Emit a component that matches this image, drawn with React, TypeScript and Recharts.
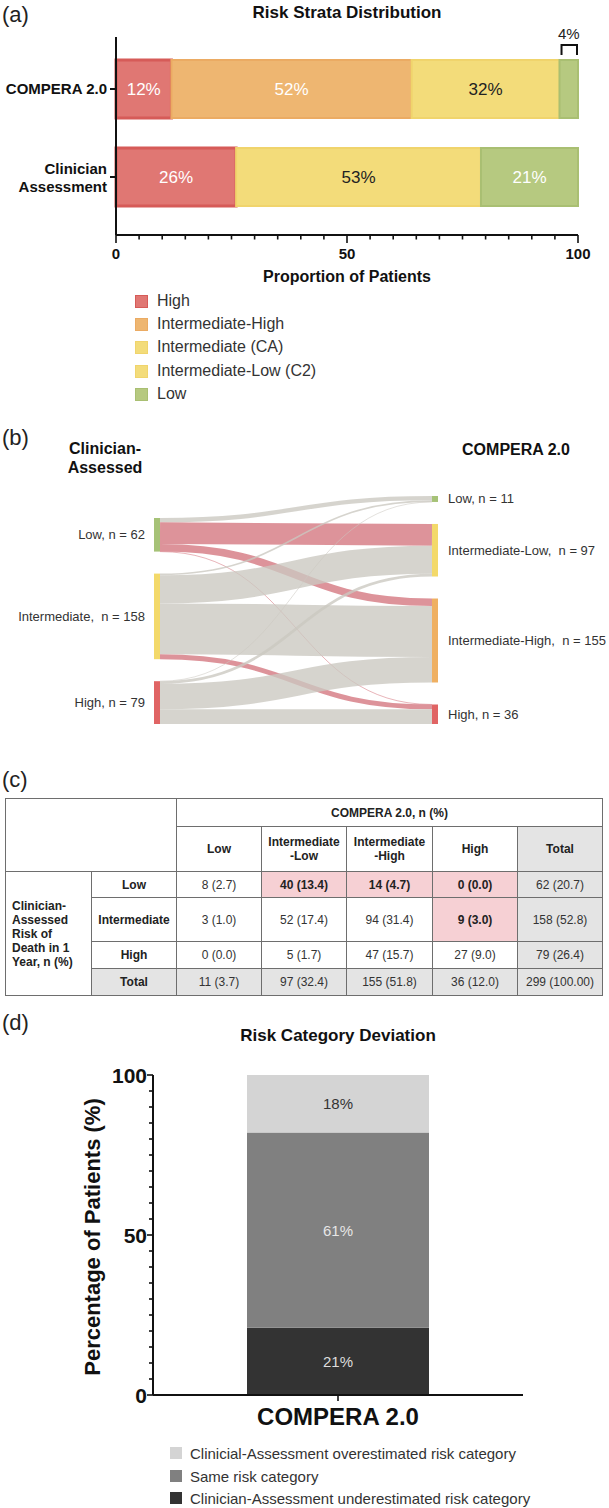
import React from 'react';
import { BarChart, Bar, XAxis, YAxis, LabelList, Sankey } from 'recharts';

const FONT = '"Liberation Sans", Arial, Helvetica, sans-serif';

// ---------- Panel (a): risk strata distribution ----------
const strataCategories = ['COMPERA 2.0', 'Clinician\nAssessment'];
const strataNames = ['High', 'Intermediate-High', 'Intermediate (CA)', 'Intermediate-Low (C2)', 'Low'];
const strataKeys = ['high', 'intHigh', 'intCA', 'intLow', 'low'];
const strataHigh = [12, 26];
const strataIntHigh = [52, 0];
const strataIntCA = [0, 53];
const strataIntLow = [32, 0];
const strataLow = [4, 21];
const strataTicks = [0, 5, 10, 15, 20, 25, 30, 35, 40, 45, 50, 55, 60, 65, 70, 75, 80, 85, 90, 95, 100];
const strataMajorTicks = [0, 50, 100];
const strataFill = ['#e07773', '#eeb671', '#f3dc7a', '#f3dc7a', '#b6c980'];
const strataStroke = ['#d65b58', '#ebab63', '#f0d46c', '#f0d46c', '#a9bf72'];
const strataLabelColor = ['#ffffff', '#ffffff', '#222222', '#222222', '#ffffff'];

// ---------- Panel (b)/(c): cross tabulation ----------
const clinicianNodeLabels = ['Low, n = 62', 'Intermediate,  n = 158', 'High, n = 79'];
const comperaNodeLabels = ['Low, n = 11', 'Intermediate-Low,  n = 97', 'Intermediate-High,  n = 155', 'High, n = 36'];
const clinicianLevels = ['Low', 'Intermediate', 'High'];
const comperaLevels = ['Low', 'Intermediate\n-Low', 'Intermediate\n-High', 'High'];
const crossCounts = [
  [8, 40, 14, 0],
  [3, 52, 94, 9],
  [0, 5, 47, 27],
];
const crossPct = [
  ['2.7', '13.4', '4.7', '0.0'],
  ['1.0', '17.4', '31.4', '3.0'],
  ['0.0', '1.7', '15.7', '9.0'],
];
const underestimated = [
  [false, true, true, true],
  [false, false, false, true],
  [false, false, false, false],
];
const rowTotals = [62, 158, 79];
const rowTotalPct = ['20.7', '52.8', '26.4'];
const colTotals = [11, 97, 155, 36];
const colTotalPct = ['3.7', '32.4', '51.8', '12.0'];
const grandTotal = 299;
const grandTotalPct = '100.00';
const nodeColors = ['#a6c277', '#f3d96a', '#e06464', '#a6c277', '#f3d96a', '#efb062', '#e06464'];

// ---------- Panel (d): risk category deviation ----------
const deviationCategories = ['COMPERA 2.0'];
const deviationUnder = [21];
const deviationSame = [61];
const deviationOver = [18];
const deviationKeys = ['under', 'same', 'over'];
const deviationFill = ['#333333', '#808080', '#d4d4d4'];
const deviationLabelColor = ['#dddddd', '#e6e6e6', '#333333'];
const deviationLegend = [
  'Clinicial-Assessment overestimated risk category',
  'Same risk category',
  'Clinician-Assessment underestimated risk category',
];
const deviationLegendFill = ['#d4d4d4', '#808080', '#333333'];
const deviationTicks = [0, 5, 10, 15, 20, 25, 30, 35, 40, 45, 50, 55, 60, 65, 70, 75, 80, 85, 90, 95, 100];
const deviationMajorTicks = [0, 50, 100];

const strataData = strataCategories.map((name, i) => ({
  name,
  high: strataHigh[i],
  intHigh: strataIntHigh[i],
  intCA: strataIntCA[i],
  intLow: strataIntLow[i],
  low: strataLow[i],
}));

const deviationData = deviationCategories.map((name, i) => ({
  name,
  under: deviationUnder[i],
  same: deviationSame[i],
  over: deviationOver[i],
}));

const sankeyData = {
  nodes: [...clinicianNodeLabels, ...comperaNodeLabels].map((name) => ({ name })),
  links: crossCounts.flatMap((row, i) =>
    row.map((v, j) => ({ source: i, target: clinicianNodeLabels.length + j, value: v, under: underestimated[i][j] }))
  ),
};

// ---------- helpers ----------
const Txt = ({ x, y, text, size, bold = false, anchor = 'middle', color = '#111', rotate = 0 }: any) => {
  const tx = anchor === 'middle' ? '-50%' : anchor === 'end' ? '-100%' : '0';
  return (
    <div
      style={{
        position: 'absolute',
        left: x,
        top: y,
        transform: `translate(${tx}, -50%)${rotate ? ` rotate(${rotate}deg)` : ''}`,
        transformOrigin: rotate ? '50% 50%' : undefined,
        fontSize: size,
        fontWeight: bold ? 700 : 400,
        color,
        whiteSpace: 'pre',
        lineHeight: 1,
        fontFamily: FONT,
      }}
    >
      {text}
    </div>
  );
};

const getBox = (props: any) => {
  const vb = props.viewBox || {};
  return {
    x: Number(props.x ?? vb.x),
    y: Number(props.y ?? vb.y),
    width: Number(props.width ?? vb.width),
    height: Number(props.height ?? vb.height),
  };
};

const makeStrataLabel = (si: number) => (props: any) => {
  const value = props.value;
  if (!value) return null;
  const { x, y, width, height } = getBox(props);
  if (si === 4 && value < 8) {
    return (
      <g>
        <path
          d={`M${x + 2},${y - 5} V${y - 15} H${x + width - 1} V${y - 5}`}
          fill="none"
          stroke="#111"
          strokeWidth={2}
        />
        <text x={x + width / 2} y={y - 27} textAnchor="middle" dominantBaseline="central" fontSize={15} fill="#222" fontFamily={FONT}>
          {`${value}%`}
        </text>
      </g>
    );
  }
  return (
    <text
      x={x + width / 2}
      y={y + height / 2}
      textAnchor="middle"
      dominantBaseline="central"
      fontSize={17}
      fill={strataLabelColor[si]}
      fontFamily={FONT}
    >
      {`${value}%`}
    </text>
  );
};

const StrataYTick = (props: any) => {
  const { x, y, payload } = props;
  const lines = String(payload.value).split('\n');
  const offsets = lines.length === 1 ? [0] : [-8, 10];
  return (
    <text textAnchor="end" fontSize={15} fontWeight="bold" fill="#111" fontFamily={FONT}>
      {lines.map((l, i) => (
        <tspan key={i} x={x} y={y + offsets[i] + 5}>
          {l}
        </tspan>
      ))}
    </text>
  );
};

const StrataXTick = (props: any) => {
  const { x, y, payload } = props;
  const major = strataMajorTicks.includes(payload.value);
  return (
    <g>
      <line x1={x} x2={x} y1={y} y2={y + (major ? 8 : 4.5)} stroke="#111" strokeWidth={1.6} />
      {major && (
        <text x={x} y={y + 18} textAnchor="middle" dominantBaseline="central" fontSize={15} fontWeight="bold" fill="#111" fontFamily={FONT}>
          {payload.value}
        </text>
      )}
    </g>
  );
};

const SankeyNodeShape = (props: any) => {
  const { x, y, width, height, index, payload } = props;
  const left = index < clinicianNodeLabels.length;
  return (
    <g>
      <rect x={x} y={y} width={width} height={Math.max(height, 1)} fill={nodeColors[index]} />
      <text
        x={left ? x - 9 : x + width + 10}
        y={y + height / 2}
        textAnchor={left ? 'end' : 'start'}
        dominantBaseline="central"
        fontSize={13}
        fill="#333"
        fontFamily={FONT}
        style={{ whiteSpace: 'pre' }}
      >
        {payload.name}
      </text>
    </g>
  );
};

const SankeyLinkShape = (props: any) => {
  const { sourceX, targetX, sourceY, targetY, sourceControlX, targetControlX, linkWidth, index, payload } = props;
  const link = sankeyData.links[index];
  const under = payload && typeof payload.under === 'boolean' ? payload.under : link && link.under;
  return (
    <path
      d={`M${sourceX},${sourceY}C${sourceControlX},${sourceY} ${targetControlX},${targetY} ${targetX},${targetY}`}
      fill="none"
      stroke={under ? '#d26f78' : '#cbc8c0'}
      strokeOpacity={under ? 0.75 : 0.78}
      strokeWidth={Math.max(linkWidth, 0.7)}
    />
  );
};

const makeDeviationLabel = (si: number) => (props: any) => {
  const value = props.value;
  if (!value) return null;
  const { x, y, width, height } = getBox(props);
  return (
    <text x={x + width / 2} y={y + height / 2} textAnchor="middle" dominantBaseline="central" fontSize={15} fill={deviationLabelColor[si]} fontFamily={FONT}>
      {`${value}%`}
    </text>
  );
};

const DeviationYTick = (props: any) => {
  const { x, y, payload } = props;
  const major = deviationMajorTicks.includes(payload.value);
  return (
    <g>
      <line x1={x - (major ? 6 : 4)} x2={x} y1={y} y2={y} stroke="#111" strokeWidth={1.6} />
      {major && (
        <text x={x - 6} y={y} textAnchor="end" dominantBaseline="central" fontSize={21} fontWeight="bold" fill="#111" fontFamily={FONT}>
          {payload.value}
        </text>
      )}
    </g>
  );
};

const DeviationXTick = (props: any) => {
  const { x, y, payload } = props;
  return (
    <g>
      <line x1={x} x2={x} y1={y} y2={y + 6} stroke="#111" strokeWidth={1.6} />
      <text x={x} y={y + 21} textAnchor="middle" dominantBaseline="central" fontSize={24} fontWeight="bold" fill="#111" fontFamily={FONT}>
        {payload.value}
      </text>
    </g>
  );
};

const LegendRow = ({ cy, left, textLeft, size, fill, stroke, label, fontSize }: any) => (
  <>
    <div
      style={{
        position: 'absolute',
        left,
        top: cy - size / 2,
        width: size,
        height: size,
        background: fill,
        boxSizing: 'border-box',
        border: stroke ? `1.5px solid ${stroke}` : 'none',
      }}
    />
    <Txt x={textLeft} y={cy} text={label} size={fontSize} anchor="start" color="#333" />
  </>
);

const border = '1.5px solid #6e6e6e';
const cell = (extra: any = {}) => ({
  border,
  padding: 0,
  textAlign: 'center' as const,
  verticalAlign: 'middle' as const,
  fontSize: 12,
  color: '#333',
  lineHeight: '14px',
  ...extra,
});
const GRAY = '#e4e4e4';
const PINK = '#f6d0d4';

const CrossTable = () => (
  <table
    style={{
      position: 'absolute',
      left: 5,
      top: 798,
      width: 597,
      borderCollapse: 'collapse',
      tableLayout: 'fixed',
      fontFamily: FONT,
    }}
  >
    <colgroup>
      <col style={{ width: 86 }} />
      <col style={{ width: 85 }} />
      <col style={{ width: 85 }} />
      <col style={{ width: 85 }} />
      <col style={{ width: 86 }} />
      <col style={{ width: 85 }} />
      <col style={{ width: 85 }} />
    </colgroup>
    <tbody>
      <tr style={{ height: 28 }}>
        <td colSpan={2} rowSpan={2} style={cell()} />
        <td colSpan={5} style={cell({ fontWeight: 700, color: '#222' })}>COMPERA 2.0, n (%)</td>
      </tr>
      <tr style={{ height: 45 }}>
        {comperaLevels.map((l) => (
          <td key={l} style={cell({ fontWeight: 700, color: '#222', whiteSpace: 'pre-line' })}>
            {l}
          </td>
        ))}
        <td style={cell({ fontWeight: 700, color: '#222', background: GRAY })}>Total</td>
      </tr>
      {clinicianLevels.map((lvl, i) => (
        <tr key={lvl} style={{ height: [26, 44, 27][i] }}>
          {i === 0 && (
            <td
              rowSpan={4}
              style={cell({ textAlign: 'left', paddingLeft: 6, fontWeight: 700, color: '#222', whiteSpace: 'pre-line' })}
            >
              {'Clinician-\nAssessed\nRisk of\nDeath in 1\nYear, n (%)'}
            </td>
          )}
          <td style={cell({ fontWeight: 700, color: '#222' })}>{lvl}</td>
          {crossCounts[i].map((v, j) => (
            <td
              key={j}
              style={cell({
                background: underestimated[i][j] ? PINK : undefined,
                fontWeight: underestimated[i][j] ? 700 : 400,
                color: underestimated[i][j] ? '#222' : '#333',
              })}
            >
              {`${v} (${crossPct[i][j]})`}
            </td>
          ))}
          <td style={cell({ background: GRAY })}>{`${rowTotals[i]} (${rowTotalPct[i]})`}</td>
        </tr>
      ))}
      <tr style={{ height: 27 }}>
        <td style={cell({ fontWeight: 700, color: '#222', background: GRAY })}>Total</td>
        {colTotals.map((v, j) => (
          <td key={j} style={cell({ background: GRAY })}>{`${v} (${colTotalPct[j]})`}</td>
        ))}
        <td style={cell({ background: GRAY })}>{`${grandTotal} (${grandTotalPct})`}</td>
      </tr>
    </tbody>
  </table>
);

export default function App() {
  return (
    <div
      style={{
        position: 'absolute',
        left: 0,
        top: 0,
        width: 609,
        height: 1508,
        background: '#fff',
        overflow: 'hidden',
        fontFamily: FONT,
      }}
    >
      {/* Panel (a) */}
      <Txt x={2} y={15} text="(a)" size={22} anchor="start" color="#222" />
      <Txt x={347} y={12} text="Risk Strata Distribution" size={17} bold />
      <div style={{ position: 'absolute', left: 0, top: 0 }}>
        <BarChart
          width={609}
          height={300}
          data={strataData}
          layout="vertical"
          margin={{ top: 37, right: 31, left: 0, bottom: 0 }}
        >
          <XAxis
            type="number"
            domain={[0, 100]}
            ticks={strataTicks}
            interval={0}
            height={65}
            tickSize={0}
            tickMargin={0}
            tickLine={false}
            axisLine={{ stroke: '#111', strokeWidth: 2 }}
            tick={(p: any) => <StrataXTick {...p} />}
          />
          <YAxis
            type="category"
            dataKey="name"
            width={116}
            padding={{ top: 8, bottom: 14 }}
            axisLine={{ stroke: '#111', strokeWidth: 2 }}
            tickLine={{ stroke: '#111', strokeWidth: 2 }}
            tickSize={6}
            tickMargin={3}
            tick={(p: any) => <StrataYTick {...p} />}
          />
          {strataKeys.map((k, si) => (
            <Bar
              key={k}
              dataKey={k}
              name={strataNames[si]}
              stackId="strata"
              fill={strataFill[si]}
              stroke={strataStroke[si]}
              strokeWidth={si === 0 ? 3 : 2}
              barSize={58}
              isAnimationActive={false}
            >
              <LabelList dataKey={k} content={makeStrataLabel(si)} />
            </Bar>
          ))}
        </BarChart>
      </div>
      <Txt x={347} y={277} text="Proportion of Patients" size={16} bold />
      {strataNames.map((n, i) => (
        <LegendRow
          key={n}
          cy={[301, 324, 347, 371, 394][i]}
          left={135}
          textLeft={157}
          size={13}
          fill={strataFill[i]}
          stroke={strataStroke[i]}
          label={n}
          fontSize={16}
        />
      ))}

      {/* Panel (b) */}
      <Txt x={2} y={438} text="(b)" size={22} anchor="start" color="#222" />
      <Txt x={105} y={449} text="Clinician-" size={16} bold />
      <Txt x={105} y={468} text="Assessed" size={16} bold />
      <Txt x={516} y={450} text="COMPERA 2.0" size={16} bold />
      <div style={{ position: 'absolute', left: 0, top: 400 }}>
        <Sankey
          width={609}
          height={340}
          data={sankeyData}
          nodeWidth={6}
          nodePadding={22}
          margin={{ top: 96, right: 171, bottom: 16, left: 154 }}
          node={(p: any) => <SankeyNodeShape {...p} />}
          link={(p: any) => <SankeyLinkShape {...p} />}
        />
      </div>

      {/* Panel (c) */}
      <Txt x={2} y={780} text="(c)" size={22} anchor="start" color="#222" />
      <CrossTable />

      {/* Panel (d) */}
      <Txt x={2} y={1023} text="(d)" size={22} anchor="start" color="#222" />
      <Txt x={338} y={1035} text="Risk Category Deviation" size={17} bold />
      <Txt x={93} y={1237} text="Percentage of Patients (%)" size={22} bold rotate={-90} />
      <div style={{ position: 'absolute', left: 0, top: 1000 }}>
        <BarChart width={609} height={440} data={deviationData} margin={{ top: 75, right: 86, left: 0, bottom: 0 }}>
          <XAxis
            dataKey="name"
            height={45}
            tickSize={0}
            tickMargin={0}
            tickLine={false}
            axisLine={{ stroke: '#111', strokeWidth: 2 }}
            tick={(p: any) => <DeviationXTick {...p} />}
          />
          <YAxis
            type="number"
            domain={[0, 100]}
            ticks={deviationTicks}
            interval={0}
            width={153}
            tickSize={0}
            tickMargin={0}
            tickLine={false}
            axisLine={{ stroke: '#111', strokeWidth: 2 }}
            tick={(p: any) => <DeviationYTick {...p} />}
          />
          {deviationKeys.map((k, si) => (
            <Bar key={k} dataKey={k} stackId="dev" fill={deviationFill[si]} barSize={182} isAnimationActive={false}>
              <LabelList dataKey={k} content={makeDeviationLabel(si)} />
            </Bar>
          ))}
        </BarChart>
      </div>
      {deviationLegend.map((n, i) => (
        <LegendRow
          key={n}
          cy={[1453, 1476, 1498][i]}
          left={170}
          textLeft={190}
          size={12}
          fill={deviationLegendFill[i]}
          label={n}
          fontSize={15}
        />
      ))}
    </div>
  );
}
